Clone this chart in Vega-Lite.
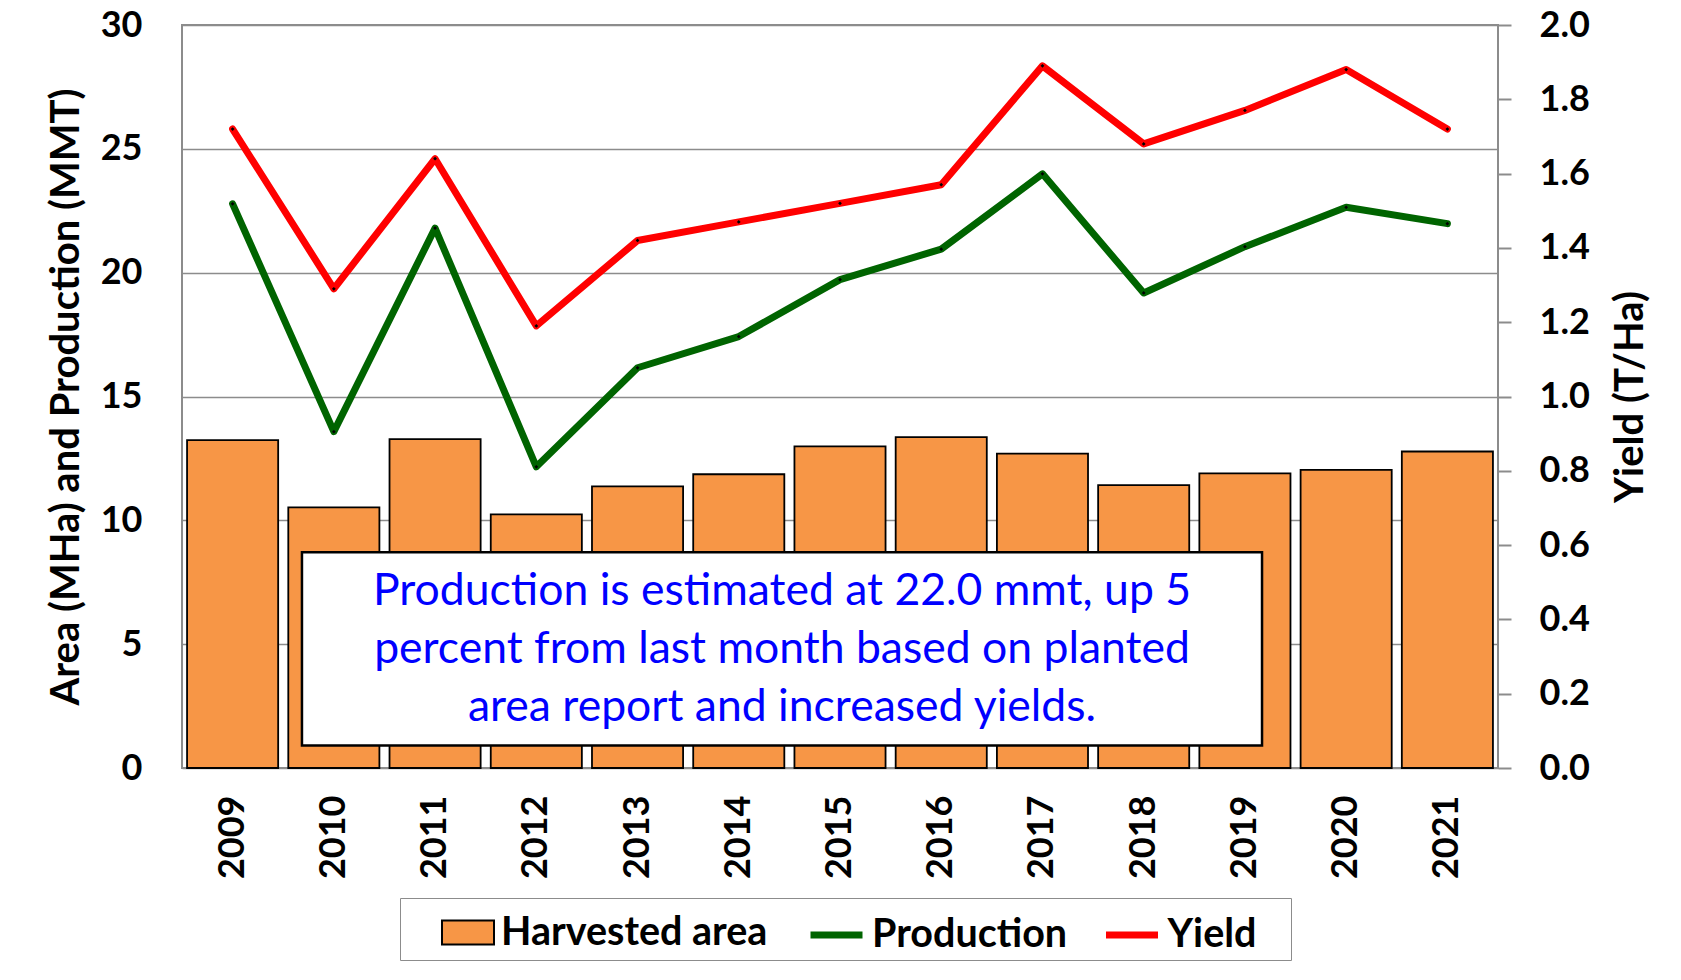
{
  "$schema": "https://vega.github.io/schema/vega-lite/v6.json",
  "width": 1316,
  "height": 743,
  "autosize": {"type": "none"},
  "padding": {"left": 182, "top": 25, "right": 183, "bottom": 212},
  "background": "white",
  "config": {
    "font": "Lato",
    "view": {"stroke": "#8c8c8c", "strokeWidth": 2}
  },
  "datasets": {
    "main": [
      {"year": "2009", "area": 13.24, "production": 22.78, "yield": 1.72},
      {"year": "2010", "area": 10.52, "production": 13.58, "yield": 1.29},
      {"year": "2011", "area": 13.28, "production": 21.80, "yield": 1.64},
      {"year": "2012", "area": 10.24, "production": 12.16, "yield": 1.19},
      {"year": "2013", "area": 11.37, "production": 16.16, "yield": 1.42},
      {"year": "2014", "area": 11.86, "production": 17.42, "yield": 1.47},
      {"year": "2015", "area": 12.99, "production": 19.72, "yield": 1.52},
      {"year": "2016", "area": 13.36, "production": 20.95, "yield": 1.57},
      {"year": "2017", "area": 12.69, "production": 23.99, "yield": 1.89},
      {"year": "2018", "area": 11.42, "production": 19.18, "yield": 1.68},
      {"year": "2019", "area": 11.90, "production": 21.05, "yield": 1.77},
      {"year": "2020", "area": 12.04, "production": 22.64, "yield": 1.88},
      {"year": "2021", "area": 12.78, "production": 21.98, "yield": 1.72}
    ],
    "box": [
      {"x0": 1.185, "x1": 10.669, "y0": 0.905, "y1": 8.716}
    ],
    "note": [
      {"tx": 5.927, "ty": 6.575, "line": "Production is estimated at 22.0 mmt, up 5"},
      {"tx": 5.927, "ty": 4.231, "line": "percent from last month based on planted"},
      {"tx": 5.927, "ty": 1.887, "line": "area report and increased yields."}
    ]
  },
  "layer": [
    {
      "data": {"name": "main"},
      "encoding": {
        "x": {
          "field": "year", "type": "ordinal",
          "scale": {"paddingInner": 0.1, "paddingOuter": 0.05},
          "axis": {
            "title": null, "labelAngle": -90, "labelFont": "Lato", "labelFontSize": 36,
            "labelFontWeight": "bold", "labelColor": "black", "ticks": false, "domain": false,
            "labelPadding": 27
          }
        }
      },
      "layer": [
        {
          "mark": {"type": "bar", "stroke": "black", "strokeWidth": 1.8, "opacity": 1},
          "encoding": {
            "y": {
              "field": "area", "type": "quantitative",
              "scale": {"domain": [0, 30], "nice": false},
              "axis": {
                "title": "Area (MHa) and Production (MMT)",
                "values": [0, 5, 10, 15, 20, 25, 30],
                "grid": true, "gridColor": "#8c8c8c", "gridWidth": 1.5,
                "domain": false, "ticks": false, "labelPadding": 40,
                "labelFont": "Lato", "labelFontSize": 36, "labelFontWeight": "bold", "labelColor": "black",
                "titleFont": "Lato", "titleFontSize": 40, "titleFontWeight": "bold", "titleColor": "black",
                "titleAngle": -90, "titleBaseline": "bottom", "titleAlign": "center",
                "titleX": -96, "titleY": 371.5
              }
            },
            "fill": {
              "datum": "Harvested area", "type": "nominal",
              "scale": {"domain": ["Harvested area"], "range": ["#F79646"]},
              "legend": {
                "title": " ", "titleOrient": "right", "titlePadding": 516, "titleFontSize": 1,
                "orient": "none", "legendX": 218, "legendY": 873,
                "direction": "horizontal", "strokeColor": "#8c8c8c", "fillColor": "transparent",
                "padding": 7.5, "symbolSize": 2704, "symbolOffset": 33.5, "labelOffset": 6,
                "symbolType": "M-1,-0.46H1V0.46H-1Z", "symbolStrokeColor": "black", "symbolStrokeWidth": 2,
                "symbolOpacity": 1, "labelLimit": 500,
                "labelFont": "Lato", "labelFontSize": 39.5, "labelFontWeight": "bold", "labelColor": "black"
              }
            }
          }
        },
        {
          "mark": {"type": "line", "strokeWidth": 7, "strokeJoin": "round", "strokeCap": "round"},
          "encoding": {
            "y": {"field": "production", "type": "quantitative"},
            "stroke": {
              "datum": "Production", "type": "nominal",
              "scale": {"domain": ["Production", "Yield"], "range": ["#006400", "#FF0000"]},
              "legend": {
                "title": null,
                "orient": "none", "legendX": 584, "legendY": 873,
                "direction": "horizontal", "fillColor": "transparent",
                "padding": 7.5, "symbolSize": 2704, "symbolOffset": 33.5, "labelOffset": 6,
                "columnPadding": 1.5, "symbolType": "stroke", "symbolStrokeWidth": 7,
                "symbolOpacity": 1, "labelLimit": 500,
                "labelFont": "Lato", "labelFontSize": 39.5, "labelFontWeight": "bold", "labelColor": "black"
              }
            }
          }
        },
        {
          "mark": {"type": "point", "filled": true, "shape": "diamond", "size": 14, "color": "black", "opacity": 1},
          "encoding": {
            "y": {"field": "production", "type": "quantitative"}
          }
        }
      ]
    },
    {
      "layer": [
        {
          "data": {"name": "box"},
          "mark": {"type": "rect", "fill": "white", "stroke": "black", "strokeWidth": 2.5},
          "encoding": {
            "x": {"field": "x0", "type": "quantitative", "scale": {"domain": [0, 13], "nice": false, "zero": false}, "axis": null},
            "x2": {"field": "x1"},
            "y": {"field": "y0", "type": "quantitative", "scale": {"domain": [0, 30], "nice": false}, "axis": null},
            "y2": {"field": "y1"}
          }
        },
        {
          "data": {"name": "note"},
          "mark": {"type": "text", "font": "Lato", "fontSize": 44.5, "color": "#0000FF", "align": "center", "baseline": "alphabetic"},
          "encoding": {
            "x": {"field": "tx", "type": "quantitative", "scale": {"domain": [0, 13], "nice": false, "zero": false}, "axis": null},
            "y": {"field": "ty", "type": "quantitative", "scale": {"domain": [0, 30], "nice": false}, "axis": null},
            "text": {"field": "line"}
          }
        }
      ]
    },
    {
      "data": {"name": "main"},
      "encoding": {
        "x": {"field": "year", "type": "ordinal", "axis": null},
        "y": {
          "field": "yield", "type": "quantitative",
          "scale": {"domain": [0, 2], "nice": false},
          "axis": {
            "orient": "right",
            "title": "Yield (T/Ha)",
            "values": [0, 0.2, 0.4, 0.6, 0.8, 1.0, 1.2, 1.4, 1.6, 1.8, 2.0],
            "format": ".1f",
            "grid": false, "domain": false, "ticks": true, "tickSize": 13,
            "tickColor": "#8c8c8c", "tickWidth": 2, "labelPadding": 28,
            "labelFont": "Lato", "labelFontSize": 36, "labelFontWeight": "bold", "labelColor": "black",
            "titleFont": "Lato", "titleFontSize": 40, "titleFontWeight": "bold", "titleColor": "black",
            "titleAngle": -90, "titleBaseline": "top", "titleAlign": "center",
            "titleX": 112, "titleY": 371.5
          }
        }
      },
      "layer": [
        {
          "mark": {"type": "line", "strokeWidth": 7, "strokeJoin": "round", "strokeCap": "round"},
          "encoding": {
            "stroke": {
              "datum": "Yield", "type": "nominal",
              "scale": {"domain": ["Production", "Yield"], "range": ["#006400", "#FF0000"]}
            }
          }
        },
        {
          "mark": {"type": "point", "filled": true, "shape": "diamond", "size": 14, "color": "black", "opacity": 1},
          "encoding": {}
        }
      ]
    }
  ],
  "resolve": {"scale": {"x": "independent", "y": "independent"}}
}
